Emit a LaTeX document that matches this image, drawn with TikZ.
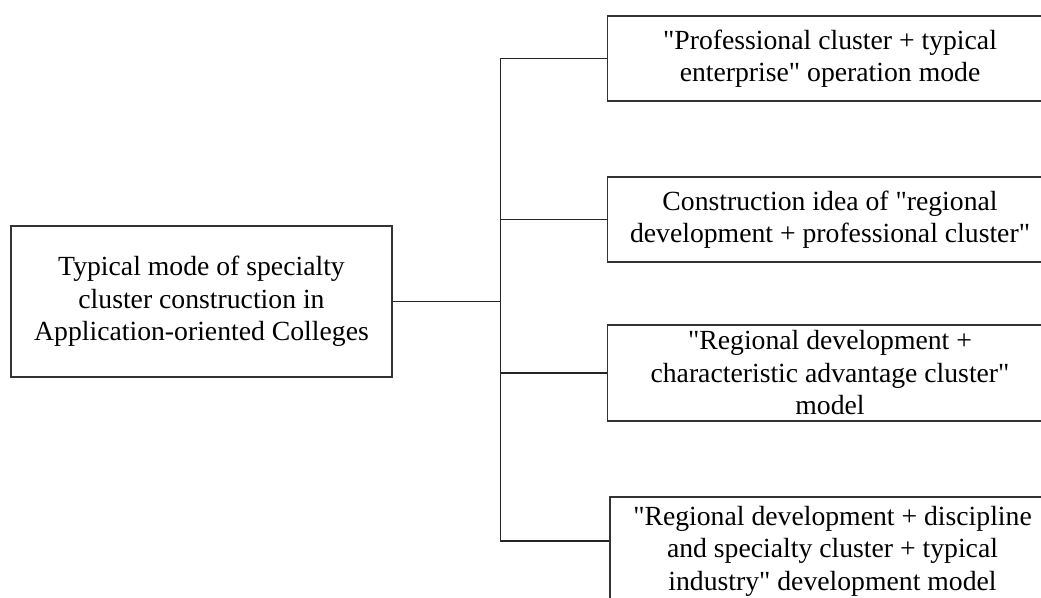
\documentclass[tikz,border=0pt]{standalone}
\usepackage{fontspec}
\setmainfont{Liberation Serif}[Ligatures=TeXOff]
\begin{document}
\begin{tikzpicture}[x=1pt,y=-1pt,
  box/.style={draw=black!80,line width=1.6pt,rectangle,inner sep=0pt,align=center,
    font=\fontsize{27.7}{32.5}\selectfont},
  link/.style={draw=black!85,line width=1.6pt}]
\useasboundingbox (0,0) rectangle (1041,597);
\clip (0,0) rectangle (1041,597);
\node[box,minimum width=381,minimum height=151] (root) at (201.5,301.5)
  {Typical mode of specialty\\cluster construction in\\Application-oriented Colleges};
\node[box,minimum width=445,minimum height=85] (b1) at (830,58.5)
  {"Professional cluster + typical\\enterprise" operation mode};
\node[box,minimum width=445,minimum height=85] (b2) at (830,219.5)
  {Construction idea of "regional\\development + professional cluster"};
\node[box,minimum width=445,minimum height=96] (b3) at (830,373)
  {"Regional development +\\characteristic advantage cluster"\\model};
\node[box,minimum width=445,minimum height=108] (b4) at (832.5,551)
  {"Regional development + discipline\\and specialty cluster + typical\\industry" development model};
\coordinate (j) at (500.5,301.5);
\draw[link] (root.east) -- (j);
\draw[link] (j) |- (b1.west);
\draw[link] (j) |- (b2.west);
\draw[link] (j) |- (b3.west);
\draw[link] (j) |- ([yshift=10pt]b4.west);
\end{tikzpicture}
\end{document}
